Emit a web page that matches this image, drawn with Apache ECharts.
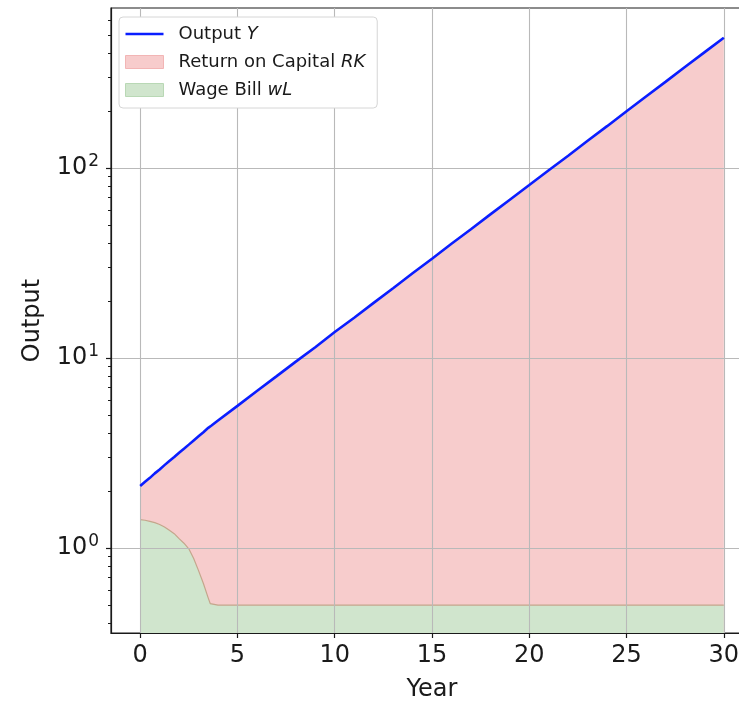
<!DOCTYPE html>
<html>
<head>
<meta charset="utf-8">
<script src="https://cdn.jsdelivr.net/npm/echarts@6/dist/echarts.min.js"></script>
<style>
html,body{margin:0;padding:0;background:#fff;}
#c{width:739px;height:705px;}
</style>
</head>
<body>
<div id="c"></div>
<script>
// Data
const years = [0, 0.25, 0.5, 0.75, 1, 1.25, 1.5, 1.75, 2, 2.25, 2.5, 2.75, 3, 3.25, 3.5, 3.6, 3.65,
  4, 5, 6, 7, 8, 9, 10, 11, 12, 13, 14, 15, 16, 17, 18, 19, 20, 21, 22, 23, 24, 25, 26, 27, 28, 29, 30];
const outputY = [2.12, 2.23, 2.34, 2.47, 2.59, 2.73, 2.87, 3.01, 3.17, 3.33, 3.50, 3.68, 3.87, 4.07, 4.29, 4.36, 4.40,
  4.69, 5.60, 6.70, 8.00, 9.57, 11.4, 13.7, 16.3, 19.5, 23.3, 27.9, 33.3, 39.9, 47.6, 57.0, 68.1, 81.4, 97.3, 116, 139, 166, 199, 238, 284, 340, 406, 485];
const wageBill = [1.41, 1.40, 1.38, 1.36, 1.33, 1.29, 1.24, 1.19, 1.12, 1.06, 0.99, 0.88, 0.76, 0.65, 0.545, 0.51, 0.50,
  0.50, 0.50, 0.50, 0.50, 0.50, 0.50, 0.50, 0.50, 0.50, 0.50, 0.50, 0.50, 0.50, 0.50, 0.50, 0.50, 0.50, 0.50, 0.50, 0.50, 0.50, 0.50, 0.50, 0.50, 0.50, 0.50, 0.50];
const xTicks = [0, 5, 10, 15, 20, 25, 30];
const yMajorTicks = [1, 10, 100];
const yMinorTicks = [0.4, 0.5, 0.6, 0.7, 0.8, 0.9, 2, 3, 4, 5, 6, 7, 8, 9, 20, 30, 40, 50, 60, 70, 80, 90, 200, 300, 400, 500, 600];
const seriesNames = ['Output Y', 'Return on Capital RK', 'Wage Bill wL'];

const FONT = 'DejaVu Sans';
const PINK = '#f7cccc';
const GREEN = '#d0e5cd';
const BLUE = '#0a1eff';
const chart = echarts.init(document.getElementById('c'), null, {renderer: 'canvas'});

const wlData = years.map((t, i) => [t, wageBill[i]]);
const yData = years.map((t, i) => [t, outputY[i]]);

function logLabel(v) {
  const e = Math.round(Math.log10(v));
  if (Math.abs(Math.log10(v) - e) > 1e-6) return '';
  return '{b|10}{s|' + e + '}';
}

const option = {
  animation: false,
  backgroundColor: '#fff',
  grid: {
    left: 111, top: 8, right: -14, bottom: 72,
    outerBoundsMode: 'none', containLabel: false,
    show: true, borderColor: '#1a1a1a', borderWidth: 1.2, backgroundColor: 'transparent'
  },
  legend: {
    left: 119, top: 17,
    orient: 'vertical',
    backgroundColor: '#fff',
    borderColor: '#d6d6d6', borderWidth: 1, borderRadius: 4,
    padding: [8, 12, 9, 6],
    itemWidth: 38, itemHeight: 13, itemGap: 10,
    symbolKeepAspect: true,
    textStyle: {fontFamily: FONT, fontSize: 18, color: '#1a1a1a', padding: [0, 0, 0, 10],
      rich: {n: {fontFamily: FONT, fontSize: 18, color: '#1a1a1a'},
             i: {fontFamily: FONT, fontSize: 18, fontStyle: 'italic', color: '#1a1a1a'}}},
    formatter: function (name) {
      const parts = name.split(' ');
      const last = parts.pop();
      return '{n|' + parts.join(' ') + ' }{i|' + last + '}';
    },
    data: [
      {name: seriesNames[0], icon: 'path://M0,0 L38,0 L38,2.6 L0,2.6 Z', itemStyle: {color: BLUE, borderWidth: 0}},
      {name: seriesNames[1], icon: 'rect', itemStyle: {color: PINK, borderColor: '#f2b5b5', borderWidth: 1}},
      {name: seriesNames[2], icon: 'rect', itemStyle: {color: GREEN, borderColor: '#b9d8b5', borderWidth: 1}}
    ]
  },
  xAxis: {
    type: 'value', min: -1.5, max: 31.5, z: 3,
    name: 'Year', nameLocation: 'middle', nameGap: 45,
    nameTextStyle: {fontFamily: FONT, fontSize: 24, color: '#1a1a1a'},
    axisLine: {show: true, onZero: false, lineStyle: {color: '#1a1a1a', width: 1.2}},
    axisTick: {show: true, length: 5, customValues: xTicks, lineStyle: {color: '#1a1a1a', width: 1.2}},
    axisLabel: {customValues: xTicks, fontFamily: FONT, fontSize: 24, color: '#1a1a1a', margin: 11},
    splitLine: {show: true, lineStyle: {color: '#b9b9b9', width: 1.1}}
  },
  yAxis: [{
    type: 'log', logBase: 10, min: 0.357, max: 695, z: 3,
    name: 'Output', nameLocation: 'middle', nameGap: 66, nameRotate: 90,
    nameTextStyle: {fontFamily: FONT, fontSize: 24, color: '#1a1a1a'},
    axisLine: {show: true, onZero: false, lineStyle: {color: '#1a1a1a', width: 1.2}},
    axisTick: {show: true, length: 5, customValues: yMajorTicks, lineStyle: {color: '#1a1a1a', width: 1.2}},
    axisLabel: {customValues: yMajorTicks, formatter: logLabel, margin: 12,
      rich: {b: {fontFamily: FONT, fontSize: 24, color: '#1a1a1a'},
             s: {fontFamily: FONT, fontSize: 17, color: '#1a1a1a', padding: [0, 0, 12, 1]}}},
    splitLine: {show: true, lineStyle: {color: '#b9b9b9', width: 1.1}},
    minorTick: {show: false}
  }, {
    type: 'log', logBase: 10, min: 0.357, max: 695, position: 'left', gridIndex: 0, z: 3,
    axisLine: {show: false, onZero: false},
    axisTick: {show: true, length: 3, customValues: yMinorTicks, lineStyle: {color: '#1a1a1a', width: 1}},
    axisLabel: {show: false},
    splitLine: {show: false}
  }],
  series: [
    {
      name: seriesNames[1], type: 'line', data: yData,
      symbol: 'none',
      lineStyle: {width: 0, color: PINK},
      itemStyle: {color: PINK},
      areaStyle: {color: PINK, opacity: 1, origin: 'start'},
      z: 1
    },
    {
      name: seriesNames[2], type: 'line', data: wlData,
      symbol: 'none',
      lineStyle: {color: '#c4a68c', width: 1.2},
      itemStyle: {color: GREEN},
      areaStyle: {color: GREEN, opacity: 1, origin: 'start'},
      z: 2
    },
    {
      name: seriesNames[0], type: 'line', data: yData,
      symbol: 'none',
      lineStyle: {color: BLUE, width: 2.6},
      itemStyle: {color: BLUE},
      z: 5
    }
  ]
};
chart.setOption(option);
</script>
</body>
</html>
